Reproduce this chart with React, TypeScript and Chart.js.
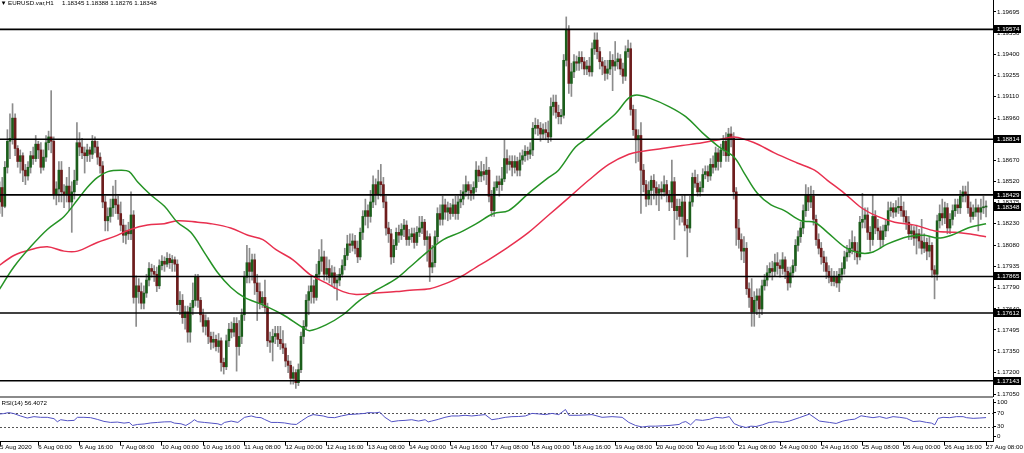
import React, { useEffect, useRef } from "react";
import { Chart, registerables } from "chart.js";

Chart.register(...registerables);

// ---------- text ----------
const symbolTitle = "EURUSD.var,H1";
const headerQuote = ["1.18345", "1.18388", "1.18276", "1.18348"];
const rsiTitle = "RSI(14) 56.4072";

// ---------- H1 candles (bar 0 = 5 Aug 08:00) ----------
const opens = [
1.1852,1.1838,1.1848,1.1835,1.1862,1.1880,1.1882,1.1896,1.1875,1.1866,
1.1870,1.1860,1.1856,1.1862,1.1870,1.1868,1.1878,1.1874,1.1862,1.1869,
1.1879,1.1883,1.1880,1.1843,1.1847,1.1860,1.1845,1.1843,1.1849,1.1838,
1.1845,1.1853,1.1879,1.1876,1.1872,1.1870,1.1874,1.1871,1.1880,1.1876,
1.1869,1.1863,1.1838,1.1825,1.1828,1.1834,1.1840,1.1836,1.1830,1.1822,
1.1815,1.1818,1.1816,1.1829,1.1772,1.1780,1.1776,1.1768,1.1775,1.1784,
1.1792,1.1790,1.1788,1.1780,1.1794,1.1797,1.1795,1.1799,1.1796,1.1798,
1.1795,1.1767,1.1770,1.1758,1.1762,1.1748,1.1765,1.1770,1.1786,1.1770,
1.1760,1.1752,1.1756,1.1745,1.1741,1.1743,1.1738,1.1742,1.1727,1.1724,
1.1742,1.1750,1.1748,1.1754,1.1738,1.1745,1.1760,1.1786,1.1796,1.1790,
1.1798,1.1782,1.1776,1.1768,1.1772,1.1765,1.1742,1.1741,1.1745,1.1747,
1.1743,1.1740,1.1737,1.1728,1.1725,1.1716,1.1720,1.1713,1.1722,1.1745,
1.1752,1.1770,1.1776,1.1780,1.1772,1.1788,1.1797,1.1800,1.1788,1.1792,
1.1786,1.1789,1.1782,1.1784,1.1788,1.1794,1.1801,1.1809,1.1808,1.1811,
1.1806,1.1800,1.1817,1.1828,1.1832,1.1828,1.1838,1.1850,1.1843,1.1852,
1.1850,1.1838,1.1820,1.1816,1.1800,1.1808,1.1817,1.1815,1.1819,1.1822,
1.1812,1.1814,1.1816,1.1810,1.1817,1.1820,1.1824,1.1812,1.1814,1.1793,
1.1796,1.1814,1.1830,1.1826,1.1836,1.1831,1.1834,1.1830,1.1836,1.1830,
1.1838,1.1840,1.1845,1.1850,1.1846,1.1844,1.1848,1.1860,1.1856,1.1859,
1.1857,1.1860,1.1842,1.1832,1.1848,1.1852,1.1850,1.1854,1.1868,1.1864,
1.1866,1.1862,1.1866,1.1860,1.1867,1.1870,1.1873,1.1871,1.1874,1.1889,
1.1891,1.1889,1.1885,1.1888,1.1886,1.1883,1.1904,1.1907,1.1900,1.1897,
1.1898,1.1936,1.1957,1.1920,1.1928,1.1935,1.1934,1.1938,1.1935,1.1930,
1.1932,1.1928,1.1944,1.1950,1.1942,1.1935,1.1932,1.1927,1.1930,1.1936,
1.1932,1.1935,1.1937,1.1930,1.1925,1.1942,1.1944,1.1902,1.1888,1.1881,
1.1884,1.1860,1.1850,1.1840,1.1846,1.1853,1.1848,1.1844,1.1847,1.1845,
1.1850,1.1843,1.1838,1.1852,1.1832,1.1835,1.1828,1.1838,1.1822,1.1820,
1.1838,1.1855,1.1851,1.1845,1.1848,1.1857,1.1859,1.1856,1.1864,1.1862,
1.1872,1.1866,1.1874,1.1880,1.1870,1.1885,1.1882,1.1845,1.1820,1.1812,
1.1804,1.1806,1.1778,1.1772,1.1762,1.1770,1.1773,1.1764,1.1780,1.1784,
1.1789,1.1792,1.1790,1.1796,1.1794,1.1792,1.1798,1.1790,1.1782,1.1789,
1.1794,1.1808,1.1814,1.1820,1.1832,1.1843,1.1838,1.1842,1.1826,1.1812,
1.1806,1.1800,1.1796,1.1790,1.1786,1.1783,1.1786,1.1782,1.1788,1.1792,
1.1800,1.1803,1.1806,1.1810,1.1804,1.1800,1.1824,1.1826,1.1829,1.1817,
1.1812,1.1828,1.1820,1.1818,1.1812,1.1818,1.1822,1.1832,1.1834,1.1831,
1.1834,1.1835,1.1832,1.1828,1.1824,1.1816,1.1818,1.1813,1.1816,1.1811,
1.1806,1.1810,1.1804,1.1808,1.1791,1.1788,1.1825,1.1830,1.1827,1.1834,
1.1820,1.1826,1.1832,1.1836,1.1834,1.1842,1.1845,1.1843,1.1834,1.1828,
1.1831,1.1834,1.1831,1.1834,1.18345
];

const highs = [
1.1856,1.1852,1.1855,1.1866,1.1888,1.1899,1.1906,1.1899,1.1877,1.1874,
1.1872,1.1864,1.1866,1.1873,1.1876,1.1884,1.1880,1.1879,1.1874,1.1884,
1.1887,1.1915,1.1883,1.1852,1.1866,1.1866,1.1850,1.1855,1.1862,1.1852,
1.1860,1.1893,1.1886,1.1882,1.1876,1.1878,1.1876,1.1884,1.1883,1.1880,
1.1872,1.1866,1.1842,1.1834,1.1840,1.1849,1.1853,1.1842,1.1838,1.1826,
1.1822,1.1824,1.1845,1.1832,1.1787,1.1785,1.1782,1.1780,1.1788,1.1796,
1.1795,1.1794,1.1793,1.1798,1.1801,1.1800,1.1803,1.1802,1.1801,1.1800,
1.1798,1.1776,1.1774,1.1766,1.1766,1.1768,1.1782,1.1788,1.1788,1.1772,
1.1764,1.1760,1.1758,1.1748,1.1748,1.1746,1.1747,1.1744,1.1730,1.1746,
1.1754,1.1755,1.1758,1.1758,1.1756,1.1764,1.1790,1.1808,1.1806,1.1802,
1.1802,1.1788,1.1782,1.1776,1.1784,1.1768,1.1748,1.1750,1.1752,1.1752,
1.1752,1.1749,1.1740,1.1732,1.1728,1.1724,1.1722,1.1726,1.1748,1.1756,
1.1774,1.1780,1.1786,1.1784,1.1795,1.1805,1.1812,1.1804,1.1800,1.1798,
1.1794,1.1793,1.1788,1.1792,1.1798,1.1806,1.1815,1.1816,1.1816,1.1815,
1.1811,1.1820,1.1832,1.1840,1.1836,1.1846,1.1856,1.1854,1.1860,1.1864,
1.1855,1.1842,1.1824,1.1819,1.1812,1.1820,1.1822,1.1823,1.1826,1.1825,
1.1819,1.1820,1.1820,1.1821,1.1828,1.1828,1.1826,1.1818,1.1816,1.1808,
1.1818,1.1834,1.1836,1.1842,1.1840,1.1838,1.1837,1.1840,1.1842,1.1842,
1.1846,1.1850,1.1856,1.1852,1.1850,1.1852,1.1866,1.1863,1.1866,1.1864,
1.1869,1.1862,1.1846,1.1852,1.1856,1.1856,1.1862,1.1881,1.1874,1.1870,
1.1870,1.1870,1.1869,1.1872,1.1874,1.1877,1.1876,1.1879,1.1893,1.1896,
1.1895,1.1893,1.1892,1.1893,1.1894,1.1910,1.1912,1.1912,1.1905,1.1902,
1.1940,1.1966,1.1960,1.1934,1.1940,1.1939,1.1942,1.1942,1.1938,1.1936,
1.1938,1.1948,1.1955,1.1955,1.1945,1.1938,1.1936,1.1936,1.1942,1.1940,
1.1949,1.1941,1.1940,1.1934,1.1946,1.1950,1.1948,1.1905,1.1902,1.1888,
1.1893,1.1864,1.1853,1.1852,1.1856,1.1857,1.1852,1.1850,1.1852,1.1856,
1.1853,1.1846,1.1867,1.1855,1.1840,1.1840,1.1842,1.1843,1.1826,1.1842,
1.1858,1.1860,1.1857,1.1852,1.1861,1.1863,1.1863,1.1868,1.1870,1.1876,
1.1875,1.1878,1.1884,1.1886,1.1889,1.1890,1.1886,1.1848,1.1826,1.1816,
1.1814,1.1810,1.1782,1.1785,1.1776,1.1778,1.1778,1.1784,1.1788,1.1794,
1.1796,1.1797,1.1802,1.1803,1.1798,1.1803,1.1800,1.1793,1.1793,1.1798,
1.1812,1.1818,1.1824,1.1836,1.1850,1.1848,1.1849,1.1846,1.1829,1.1816,
1.1810,1.1804,1.1800,1.1794,1.1792,1.1790,1.1790,1.1792,1.1796,1.1804,
1.1808,1.1812,1.1818,1.1814,1.1810,1.1828,1.1844,1.1834,1.1834,1.1821,
1.1843,1.1832,1.1826,1.1821,1.1822,1.1826,1.1838,1.1838,1.1837,1.1839,
1.1841,1.1842,1.1838,1.1832,1.1828,1.1822,1.1821,1.1822,1.1819,1.1826,
1.1816,1.1813,1.1814,1.1810,1.1794,1.1829,1.1836,1.1840,1.1838,1.1837,
1.1830,1.1836,1.1840,1.1840,1.1846,1.1849,1.1849,1.1852,1.1838,1.1836,
1.1840,1.1836,1.1840,1.1842,1.18388
];

const lows = [
1.1832,1.1830,1.1828,1.1834,1.1858,1.1868,1.1878,1.1870,1.1862,1.1858,
1.1852,1.1850,1.1853,1.1858,1.1864,1.1866,1.1868,1.1858,1.1860,1.1866,
1.1874,1.1872,1.1840,1.1836,1.1838,1.1838,1.1834,1.1838,1.1832,1.1817,
1.1840,1.1850,1.1870,1.1868,1.1858,1.1866,1.1866,1.1868,1.1872,1.1864,
1.1858,1.1834,1.1818,1.1818,1.1824,1.1828,1.1830,1.1826,1.1818,1.1810,
1.1809,1.1812,1.1812,1.1768,1.1752,1.1768,1.1764,1.1764,1.1772,1.1780,
1.1786,1.1783,1.1776,1.1778,1.1791,1.1790,1.1793,1.1792,1.1790,1.1790,
1.1763,1.1760,1.1754,1.1750,1.1741,1.1741,1.1760,1.1766,1.1765,1.1755,
1.1748,1.1746,1.1740,1.1736,1.1737,1.1735,1.1734,1.1721,1.1719,1.1722,
1.1738,1.1744,1.1745,1.1721,1.1732,1.1740,1.1756,1.1782,1.1782,1.1784,
1.1774,1.1756,1.1764,1.1765,1.1762,1.1738,1.1734,1.1728,1.1740,1.1738,
1.1736,1.1733,1.1724,1.1720,1.1712,1.1712,1.1709,1.1711,1.1720,1.1740,
1.1750,1.1760,1.1768,1.1768,1.1770,1.1785,1.1790,1.1784,1.1784,1.1782,
1.1780,1.1778,1.1770,1.1780,1.1786,1.1791,1.1798,1.1803,1.1804,1.1802,
1.1796,1.1798,1.1812,1.1822,1.1820,1.1824,1.1834,1.1836,1.1840,1.1842,
1.1834,1.1815,1.1810,1.1795,1.1796,1.1805,1.1810,1.1812,1.1814,1.1808,
1.1808,1.1810,1.1806,1.1808,1.1814,1.1816,1.1808,1.1797,1.1783,1.1789,
1.1793,1.1810,1.1822,1.1822,1.1826,1.1825,1.1826,1.1828,1.1826,1.1826,
1.1834,1.1836,1.1842,1.1840,1.1839,1.1840,1.1845,1.1852,1.1852,1.1853,
1.1850,1.1838,1.1828,1.1828,1.1846,1.1842,1.1846,1.1852,1.1858,1.1860,
1.1856,1.1858,1.1856,1.1856,1.1864,1.1866,1.1867,1.1868,1.1870,1.1885,
1.1884,1.1880,1.1882,1.1881,1.1879,1.1880,1.1898,1.1896,1.1892,1.1892,
1.1896,1.1932,1.1913,1.1911,1.1924,1.1929,1.1929,1.1930,1.1926,1.1926,
1.1925,1.1925,1.1940,1.1937,1.1930,1.1926,1.1922,1.1923,1.1926,1.1915,
1.1929,1.1930,1.1926,1.1920,1.1922,1.1938,1.1898,1.1884,1.1865,1.1866,
1.1830,1.1845,1.1835,1.1836,1.1836,1.1840,1.1836,1.1832,1.1840,1.1842,
1.1838,1.1832,1.1834,1.1812,1.1826,1.1822,1.1824,1.1818,1.1800,1.1817,
1.1835,1.1848,1.1842,1.1842,1.1845,1.1854,1.1852,1.1853,1.1858,1.1860,
1.1860,1.1862,1.1870,1.1866,1.1866,1.1876,1.1840,1.1808,1.1806,1.1798,
1.1796,1.1774,1.1765,1.1752,1.1752,1.1760,1.1758,1.1760,1.1777,1.1780,
1.1786,1.1784,1.1787,1.1788,1.1786,1.1788,1.1785,1.1777,1.1779,1.1786,
1.1790,1.1804,1.1810,1.1816,1.1828,1.1832,1.1834,1.1822,1.1808,1.1802,
1.1795,1.1790,1.1785,1.1782,1.1780,1.1780,1.1779,1.1776,1.1784,1.1788,
1.1797,1.1800,1.1802,1.1798,1.1795,1.1798,1.1820,1.1820,1.1812,1.1804,
1.1808,1.1816,1.1812,1.1806,1.1808,1.1814,1.1818,1.1828,1.1827,1.1828,
1.1830,1.1828,1.1824,1.1819,1.1812,1.1812,1.1808,1.1802,1.1806,1.1802,
1.1803,1.1798,1.1800,1.1786,1.1771,1.1784,1.1820,1.1822,1.1823,1.1816,
1.1816,1.1822,1.1828,1.1830,1.1830,1.1838,1.1838,1.1830,1.1824,1.1826,
1.1828,1.1818,1.1826,1.1830,1.18276
];

const closes = [
1.1838,1.1848,1.1835,1.1862,1.1880,1.1882,1.1896,1.1875,1.1866,1.1870,
1.1860,1.1856,1.1862,1.1870,1.1868,1.1878,1.1874,1.1862,1.1869,1.1879,
1.1883,1.1880,1.1843,1.1847,1.1860,1.1845,1.1843,1.1849,1.1838,1.1845,
1.1853,1.1879,1.1876,1.1872,1.1870,1.1874,1.1871,1.1880,1.1876,1.1869,
1.1863,1.1838,1.1825,1.1828,1.1834,1.1840,1.1836,1.1830,1.1822,1.1815,
1.1818,1.1816,1.1829,1.1772,1.1780,1.1776,1.1768,1.1775,1.1784,1.1792,
1.1790,1.1788,1.1780,1.1794,1.1797,1.1795,1.1799,1.1796,1.1798,1.1795,
1.1767,1.1770,1.1758,1.1762,1.1748,1.1765,1.1770,1.1786,1.1770,1.1760,
1.1752,1.1756,1.1745,1.1741,1.1743,1.1738,1.1742,1.1727,1.1724,1.1742,
1.1750,1.1748,1.1754,1.1738,1.1745,1.1760,1.1786,1.1796,1.1790,1.1798,
1.1782,1.1776,1.1768,1.1772,1.1765,1.1742,1.1741,1.1745,1.1747,1.1743,
1.1740,1.1737,1.1728,1.1725,1.1716,1.1720,1.1713,1.1722,1.1745,1.1752,
1.1770,1.1776,1.1780,1.1772,1.1788,1.1797,1.1800,1.1788,1.1792,1.1786,
1.1789,1.1782,1.1784,1.1788,1.1794,1.1801,1.1809,1.1808,1.1811,1.1806,
1.1800,1.1817,1.1828,1.1832,1.1828,1.1838,1.1850,1.1843,1.1852,1.1850,
1.1838,1.1820,1.1816,1.1800,1.1808,1.1817,1.1815,1.1819,1.1822,1.1812,
1.1814,1.1816,1.1810,1.1817,1.1820,1.1824,1.1812,1.1814,1.1793,1.1796,
1.1814,1.1830,1.1826,1.1836,1.1831,1.1834,1.1830,1.1836,1.1830,1.1838,
1.1840,1.1845,1.1850,1.1846,1.1844,1.1848,1.1860,1.1856,1.1859,1.1857,
1.1860,1.1842,1.1832,1.1848,1.1852,1.1850,1.1854,1.1868,1.1864,1.1866,
1.1862,1.1866,1.1860,1.1867,1.1870,1.1873,1.1871,1.1874,1.1889,1.1891,
1.1889,1.1885,1.1888,1.1886,1.1883,1.1904,1.1907,1.1900,1.1897,1.1898,
1.1936,1.1957,1.1920,1.1928,1.1935,1.1934,1.1938,1.1935,1.1930,1.1932,
1.1928,1.1944,1.1950,1.1942,1.1935,1.1932,1.1927,1.1930,1.1936,1.1932,
1.1935,1.1937,1.1930,1.1925,1.1942,1.1944,1.1902,1.1888,1.1881,1.1884,
1.1860,1.1850,1.1840,1.1846,1.1853,1.1848,1.1844,1.1847,1.1845,1.1850,
1.1843,1.1838,1.1852,1.1832,1.1835,1.1828,1.1838,1.1822,1.1820,1.1838,
1.1855,1.1851,1.1845,1.1848,1.1857,1.1859,1.1856,1.1864,1.1862,1.1872,
1.1866,1.1874,1.1880,1.1870,1.1885,1.1882,1.1845,1.1820,1.1812,1.1804,
1.1806,1.1778,1.1772,1.1762,1.1770,1.1773,1.1764,1.1780,1.1784,1.1789,
1.1792,1.1790,1.1796,1.1794,1.1792,1.1798,1.1790,1.1782,1.1789,1.1794,
1.1808,1.1814,1.1820,1.1832,1.1843,1.1838,1.1842,1.1826,1.1812,1.1806,
1.1800,1.1796,1.1790,1.1786,1.1783,1.1786,1.1782,1.1788,1.1792,1.1800,
1.1803,1.1806,1.1810,1.1804,1.1800,1.1824,1.1826,1.1829,1.1817,1.1812,
1.1828,1.1820,1.1818,1.1812,1.1818,1.1822,1.1832,1.1834,1.1831,1.1834,
1.1835,1.1832,1.1828,1.1824,1.1816,1.1818,1.1813,1.1816,1.1811,1.1806,
1.1810,1.1804,1.1808,1.1791,1.1788,1.1825,1.1830,1.1827,1.1834,1.1820,
1.1826,1.1832,1.1836,1.1834,1.1842,1.1845,1.1843,1.1834,1.1828,1.1831,
1.1834,1.1831,1.1834,1.18345,1.18348
];

// ---------- horizontal levels / current price ----------
const levels = [1.19574, 1.18814, 1.18429, 1.17865, 1.17612, 1.17143];
const currentPrice = 1.18348;

// ---------- price axis ticks ----------
const priceTicks = [
  1.19695, 1.1955, 1.194, 1.19255, 1.1911, 1.1896, 1.18815, 1.1867, 1.1852, 1.18375,
  1.1823, 1.1808, 1.17935, 1.1779, 1.1764, 1.17495, 1.1735, 1.172, 1.1705
];

// ---------- moving averages (read at bar positions) ----------
const maGreenBars = [0,6.5,13,19.5,26,31,35,39,43,48,51.3,54.5,59.6,65,70,75.2,80.5,85.7,90.7,96,103,111,118.8,121.4,127.7,134.3,140.8,147.2,155,160.3,166.7,173.3,179.8,186.1,192.8,198.6,206.4,214.2,218,224.6,229.7,234.8,240.1,245.3,248.4,253.1,260.9,267.4,273.8,280.4,286.2,290.1,295.2,300.5,305.7,312.2,317.4,322.4,329,334.1,339.4,345.8,353.6,360.2,365.3,370.6,377,384];
const maGreenVals = [1.1775,1.1793,1.1807,1.1819,1.1828,1.1839,1.1848,1.1855,1.1859,1.1860,1.1859,1.1852,1.1843,1.1835,1.1824,1.1817,1.1803,1.1789,1.1779,1.1772,1.1767,1.1760,1.1751,1.1749,1.1753,1.1760,1.1770,1.1777,1.1785,1.1793,1.1803,1.1812,1.1817,1.1823,1.1830,1.1832,1.1844,1.1855,1.1860,1.1876,1.1883,1.1891,1.1899,1.1910,1.1912,1.1910,1.1904,1.1897,1.1886,1.1876,1.1869,1.1858,1.1844,1.1836,1.1832,1.1825,1.1824,1.1817,1.1807,1.1803,1.1803,1.1809,1.1814,1.1815,1.1813,1.1815,1.1820,1.1823];

const maRedBars = [0,6.5,12.9,19.5,26,31.2,38.9,45.4,51.8,58.4,64.9,70.1,77.9,83,90.7,97.4,103.2,108.3,114.9,121.4,127.7,134.3,139.4,147.2,155,160.3,168.1,173.3,179.8,186.1,190.8,198.6,206.4,214.2,222,229.7,237.5,245.3,250.4,258.2,266,273.8,280.4,286.2,294,301.8,310.7,317.4,322.4,329,335.6,341.9,348.5,356.3,364.1,371.9,377,384];
const maRedVals = [1.1793,1.1801,1.1805,1.1807,1.1804,1.1804,1.1810,1.1814,1.1819,1.1822,1.1823,1.1825,1.1824,1.1823,1.1820,1.1815,1.1812,1.1805,1.1798,1.1788,1.1782,1.1776,1.1774,1.1775,1.1776,1.1777,1.1778,1.1781,1.1786,1.1793,1.1798,1.1807,1.1817,1.1829,1.1841,1.1853,1.1864,1.1871,1.1873,1.1875,1.1877,1.1879,1.1881,1.1883,1.1879,1.1872,1.1865,1.1860,1.1853,1.1844,1.1834,1.1828,1.1824,1.1822,1.1818,1.1817,1.1816,1.1814];

// ---------- RSI(14) (read at bar positions) ----------
const rsiBars = [0,2.6,4.5,6.5,9.1,11.7,14.3,16.9,19.5,22.1,23.4,24.7,27.3,29.9,31.2,33.7,36.3,38.9,41.5,44.1,46.7,49.3,51.3,52.6,54.5,57.1,59.7,62.3,64.9,67.5,68.8,71.4,73.3,75.3,76.6,77.9,80.5,83.1,85.7,87,88.3,90.9,93.5,96.1,98.7,100.6,102.5,103.8,106.4,109,111.6,114.2,116.2,118.1,120.7,122.7,124.6,126.6,128.5,131.1,133.7,136.3,140.2,142.8,144.1,146.7,148.6,150.6,153.2,155.8,158.4,161,163.6,166.2,167.4,168.7,171.3,173.9,176.5,179.1,181.7,184.3,186.9,189.5,192.1,194.7,197.3,199.9,202.5,205.1,207.7,210.3,212.9,215.5,218.1,220.7,222,225.9,231,234.9,238.8,242.7,245.3,247.9,250.5,253.1,255.7,258.3,260.9,264.8,266.1,267.4,269.3,271.3,273.9,276.5,279.1,281.7,284.3,286.2,288.2,290.8,292.7,294.7,297.2,299.8,302.4,305,307.6,311.5,315.4,319.3,323.2,325.8,328.4,331,333,335.5,337.5,340.1,342.7,345.3,347.9,350.5,353.1,355.7,358.3,360.9,362.8,364.1,365.4,367.3,369.9,372.5,375.1,376.4,379,381.6,383.6,384];
const rsiVals = [66,68,71,68,61,55,59,57,57,53,44,50,47,48,57,57,56,51,45,42,43,40,42,33,36,37.5,40.5,42,43.6,44,40,38,33,42,50,44,42,40,38,34.5,42,46,42,57,61,57,56,51,42,42,40.5,37,36,46,59,65,63,61,57,56,61,65,67,68.5,71,70,72,57,44,47,48,50,46,50,43.6,46,51,57,61,61,63,61,63,65,50,53,57,59,59.4,61,68.5,67,65,68.5,65,80,63,63,65,57,59,57,42,33,28.5,31,31,32,33,36,42,44.5,35,50,48,51,57,55,59,38.5,32,27,31,30,35,42,44,42,46,56,66.5,46,42,39,46,50,51.5,61.5,59,56,59,54,59,57,54,44.6,46,42,40,35,54,57,56,59,59,56,54,55,56,56.4];
const rsiTicks = [0, 30, 70, 100];
const rsiLevels = [70, 30];

// ---------- time axis ----------
const timeTickBars = [1.13,16,32,48,64,80,96,112,128,144,160,176,192,208,224,240,256,272,288,304,320,336,352,368,384];
const timeLabels = ["5 Aug 2020","6 Aug 00:00","6 Aug 16:00","7 Aug 08:00","10 Aug 00:00","10 Aug 16:00","11 Aug 08:00","12 Aug 00:00","12 Aug 16:00","13 Aug 08:00","14 Aug 00:00","14 Aug 16:00","17 Aug 08:00","18 Aug 00:00","18 Aug 16:00","19 Aug 08:00","20 Aug 00:00","20 Aug 16:00","21 Aug 08:00","24 Aug 00:00","24 Aug 16:00","25 Aug 08:00","26 Aug 00:00","26 Aug 16:00","27 Aug 08:00"];

// ---------- view ----------
const X_MIN = 1.13;
const X_MAX = 386.7;
const PRICE_MIN = 1.17038;
const PRICE_MAX = 1.19777;
const RSI_MIN = -14.7;
const RSI_MAX = 110.9;

const FONT = "'Liberation Sans', 'DejaVu Sans', Arial, sans-serif";
const FS = 6.2;
const UP_BODY = "#1b5e1b";
const DOWN_BODY = "#6e1d1d";
const WICK = "#8c8c8c";
const MA_GREEN = "#259325";
const MA_RED = "#e8304f";
const RSI_COLOR = "#5252c4";

const noPadY = (s: any) => {
  s.width = 31;
  s.paddingTop = 0;
  s.paddingBottom = 0;
};

export default function App() {
  const mainRef = useRef<HTMLCanvasElement>(null);
  const rsiRef = useRef<HTMLCanvasElement>(null);

  useEffect(() => {
    document.body.style.margin = "0";
    Chart.defaults.font.family = FONT;
    Chart.defaults.font.size = FS;
    Chart.defaults.color = "#000";

    const idx = closes.map((_, i) => i);
    const wickData = idx.map((i) => ({ x: i, y: [lows[i], highs[i]] }));
    const bodyData = idx.map((i) => ({ x: i, y: [opens[i], closes[i]] }));
    const bodyColors = idx.map((i) => (closes[i] >= opens[i] ? UP_BODY : DOWN_BODY));

    const mainDecor = {
      id: "mainDecor",
      afterDatasetsDraw(chart: any) {
        const { ctx, chartArea: a, scales } = chart;
        const y = scales.y;
        ctx.save();
        ctx.beginPath();
        ctx.rect(a.left, a.top, a.right - a.left, a.bottom - a.top);
        ctx.clip();
        ctx.strokeStyle = "#000";
        ctx.lineWidth = 1.6;
        levels.forEach((v) => {
          const py = y.getPixelForValue(v);
          ctx.beginPath();
          ctx.moveTo(a.left, py);
          ctx.lineTo(a.right, py);
          ctx.stroke();
        });
        ctx.restore();
      },
      afterDraw(chart: any) {
        const { ctx, chartArea: a, scales } = chart;
        const y = scales.y;
        ctx.save();
        ctx.font = `${FS}px ${FONT}`;
        ctx.textBaseline = "middle";
        ctx.textAlign = "left";
        [...levels, currentPrice].forEach((v) => {
          const py = Math.round(y.getPixelForValue(v));
          ctx.fillStyle = "#000";
          ctx.fillRect(a.right + 1, py - 4, 27, 8);
          ctx.fillStyle = "#fff";
          ctx.fillText(v.toFixed(5), a.right + 4, py + 0.5);
        });
        ctx.fillStyle = "#000";
        ctx.fillText("\u25BC", 0.5, a.top + 3);
        ctx.fillText(symbolTitle, 8, a.top + 3);
        ctx.fillText(headerQuote.join(" "), 62, a.top + 3);
        ctx.restore();
      },
    };

    const main = new Chart(mainRef.current!, {
      type: "bar",
      data: {
        datasets: [
          {
            type: "line",
            data: maGreenBars.map((b, i) => ({ x: b, y: maGreenVals[i] })),
            borderColor: MA_GREEN,
            borderWidth: 1.5,
            pointRadius: 0,
            tension: 0.35,
            order: 0,
          },
          {
            type: "line",
            data: maRedBars.map((b, i) => ({ x: b, y: maRedVals[i] })),
            borderColor: MA_RED,
            borderWidth: 1.5,
            pointRadius: 0,
            tension: 0.35,
            order: 0,
          },
          {
            type: "bar",
            data: bodyData as any,
            backgroundColor: bodyColors,
            barThickness: 2,
            grouped: false,
            minBarLength: 1,
            order: 1,
          },
          {
            type: "bar",
            data: wickData as any,
            backgroundColor: WICK,
            barThickness: 1,
            grouped: false,
            order: 2,
          },
        ] as any,
      },
      options: {
        animation: false,
        responsive: false,
        maintainAspectRatio: false,
        layout: { padding: { left: 0, right: 0, top: 0, bottom: 4 } },
        plugins: { legend: { display: false }, tooltip: { enabled: false } },
        scales: {
          x: {
            type: "linear",
            min: X_MIN,
            max: X_MAX,
            offset: false,
            display: false,
            grid: { display: false, offset: false },
          },
          y: {
            type: "linear",
            position: "right",
            min: PRICE_MIN,
            max: PRICE_MAX,
            afterBuildTicks: (s: any) => {
              s.ticks = priceTicks.map((v) => ({ value: v }));
            },
            afterFit: noPadY,
            ticks: {
              callback: (v: any) => Number(v).toFixed(5),
              padding: 1,
              font: { size: FS, family: FONT },
              color: "#000",
            },
            grid: { drawOnChartArea: false, drawTicks: true, tickLength: 3, color: "#000" },
            border: { display: true, color: "#000", width: 1 },
          },
        },
      } as any,
      plugins: [mainDecor],
    });

    const rsiDecor = {
      id: "rsiDecor",
      beforeDatasetsDraw(chart: any) {
        const { ctx, chartArea: a, scales } = chart;
        const y = scales.y;
        ctx.save();
        ctx.strokeStyle = "#555";
        ctx.lineWidth = 1;
        ctx.setLineDash([2, 2]);
        rsiLevels.forEach((v) => {
          const py = Math.round(y.getPixelForValue(v)) + 0.5;
          ctx.beginPath();
          ctx.moveTo(a.left, py);
          ctx.lineTo(a.right, py);
          ctx.stroke();
        });
        ctx.restore();
      },
      afterDraw(chart: any) {
        const { ctx, chartArea: a } = chart;
        ctx.save();
        ctx.font = `${FS}px ${FONT}`;
        ctx.textBaseline = "middle";
        ctx.textAlign = "left";
        ctx.fillStyle = "#000";
        ctx.fillText(rsiTitle, 1.5, a.top + 4.5);
        ctx.restore();
      },
    };

    const rsi = new Chart(rsiRef.current!, {
      type: "line",
      data: {
        datasets: [
          {
            data: rsiBars.map((b, i) => ({ x: b, y: rsiVals[i] })),
            borderColor: RSI_COLOR,
            borderWidth: 1,
            pointRadius: 0,
            tension: 0,
          },
        ],
      },
      options: {
        animation: false,
        responsive: false,
        maintainAspectRatio: false,
        layout: { padding: { left: 0, right: 0, top: 1, bottom: 0 } },
        plugins: { legend: { display: false }, tooltip: { enabled: false } },
        scales: {
          x: {
            type: "linear",
            min: X_MIN,
            max: X_MAX,
            offset: false,
            afterBuildTicks: (s: any) => {
              s.ticks = timeTickBars.map((v) => ({ value: v }));
            },
            afterFit: (s: any) => {
              s.height = 11.3;
              s.paddingLeft = 0;
              s.paddingRight = 0;
            },
            ticks: {
              autoSkip: false,
              maxRotation: 0,
              minRotation: 0,
              align: "start",
              padding: -2,
              callback: (_v: any, i: number) => timeLabels[i],
              font: { size: FS, family: FONT },
              color: "#000",
            },
            grid: { drawOnChartArea: false, drawTicks: true, tickLength: 4, color: "#000" },
            border: { display: true, color: "#000", width: 1 },
          },
          y: {
            type: "linear",
            position: "right",
            min: RSI_MIN,
            max: RSI_MAX,
            afterBuildTicks: (s: any) => {
              s.ticks = rsiTicks.map((v) => ({ value: v }));
            },
            afterFit: noPadY,
            ticks: {
              callback: (v: any) => String(v),
              padding: 1,
              font: { size: FS, family: FONT },
              color: "#000",
            },
            grid: { drawOnChartArea: false, drawTicks: true, tickLength: 3, color: "#000" },
            border: { display: true, color: "#000", width: 1 },
          },
        },
      } as any,
      plugins: [rsiDecor],
    });

    return () => {
      main.destroy();
      rsi.destroy();
    };
  }, []);

  return (
    <div
      style={{
        position: "fixed",
        left: 0,
        top: 0,
        width: 1024,
        height: 453,
        background: "#fff",
        overflow: "hidden",
      }}
    >
      <canvas
        ref={mainRef}
        width={1024}
        height={400}
        style={{ position: "absolute", left: 0, top: 0, width: 1024, height: 400 }}
      />
      <div
        style={{
          position: "absolute",
          left: 0,
          top: 396,
          width: 993,
          height: 2,
          background: "#8a8a8a",
        }}
      />
      <canvas
        ref={rsiRef}
        width={1024}
        height={55}
        style={{ position: "absolute", left: 0, top: 398, width: 1024, height: 55 }}
      />
    </div>
  );
}
